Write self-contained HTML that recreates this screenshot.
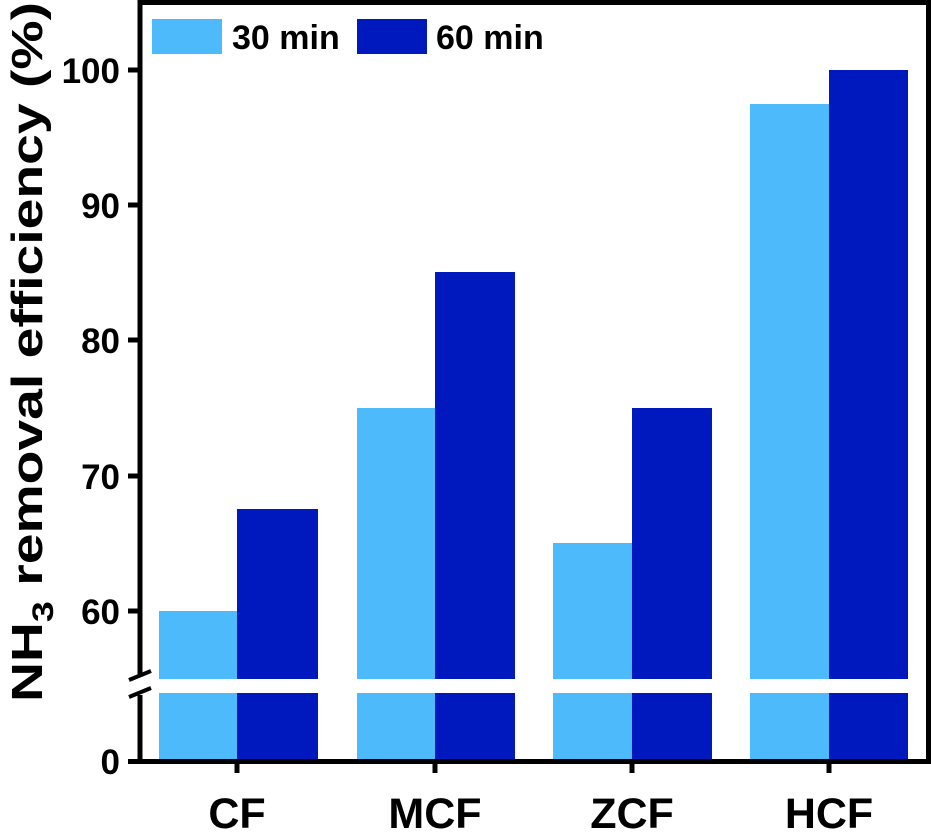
<!DOCTYPE html>
<html><head><style>body{margin:0;background:#fff}svg{display:block}</style></head><body>
<svg width="931" height="834" viewBox="0 0 931 834" xmlns="http://www.w3.org/2000/svg" font-family="Liberation Sans, Arial, sans-serif" font-weight="bold">
<g>
<rect x="159" y="611" width="78" height="68" fill="#4dbbfb"/>
<rect x="237" y="509" width="81" height="170" fill="#0019bf"/>
<rect x="357" y="408" width="78" height="271" fill="#4dbbfb"/>
<rect x="435" y="272" width="80" height="407" fill="#0019bf"/>
<rect x="553" y="543" width="79" height="136" fill="#4dbbfb"/>
<rect x="632" y="408" width="80" height="271" fill="#0019bf"/>
<rect x="750" y="104" width="79" height="575" fill="#4dbbfb"/>
<rect x="829" y="70" width="79" height="609" fill="#0019bf"/>
</g>
<g>
<rect x="159" y="693" width="78" height="68" fill="#4dbbfb"/>
<rect x="237" y="693" width="81" height="68" fill="#0019bf"/>
<rect x="357" y="693" width="78" height="68" fill="#4dbbfb"/>
<rect x="435" y="693" width="80" height="68" fill="#0019bf"/>
<rect x="553" y="693" width="79" height="68" fill="#4dbbfb"/>
<rect x="632" y="693" width="80" height="68" fill="#0019bf"/>
<rect x="750" y="693" width="79" height="68" fill="#4dbbfb"/>
<rect x="829" y="693" width="79" height="68" fill="#0019bf"/>
</g>
<line x1="138" y1="2.5" x2="931" y2="2.5" stroke="#000" stroke-width="5"/>
<line x1="928.5" y1="0" x2="928.5" y2="764" stroke="#000" stroke-width="5"/>
<line x1="140" y1="0" x2="140" y2="676" stroke="#000" stroke-width="5"/>
<line x1="140" y1="695" x2="140" y2="764" stroke="#000" stroke-width="5"/>
<line x1="128" y1="761.5" x2="931" y2="761.5" stroke="#000" stroke-width="5"/>
<line x1="129" y1="680" x2="151" y2="671" stroke="#000" stroke-width="4"/>
<line x1="129" y1="697" x2="151" y2="688" stroke="#000" stroke-width="4"/>
<g stroke="#000" stroke-width="5">
<line x1="128" y1="70" x2="140" y2="70"/>
<line x1="128" y1="205" x2="140" y2="205"/>
<line x1="128" y1="340" x2="140" y2="340"/>
<line x1="128" y1="476" x2="140" y2="476"/>
<line x1="128" y1="611" x2="140" y2="611"/>
<line x1="237" y1="761" x2="237" y2="773"/>
<line x1="435" y1="761" x2="435" y2="773"/>
<line x1="632" y1="761" x2="632" y2="773"/>
<line x1="829" y1="761" x2="829" y2="773"/>
</g>
<g font-size="35" text-anchor="end" fill="#000">
<text x="120" y="83">100</text>
<text x="120" y="218">90</text>
<text x="120" y="353">80</text>
<text x="120" y="489">70</text>
<text x="120" y="624">60</text>
<text x="120" y="774">0</text>
</g>
<g font-size="43" text-anchor="middle" fill="#000">
<text x="237" y="828">CF</text>
<text x="435" y="828">MCF</text>
<text x="632" y="828">ZCF</text>
<text x="829" y="828">HCF</text>
</g>
<text transform="translate(42,352) rotate(-90)" font-size="44" text-anchor="middle" fill="#000" textLength="700" lengthAdjust="spacingAndGlyphs">NH<tspan font-size="30" dy="11">3</tspan><tspan dy="-11"> removal efficiency (%)</tspan></text>
<rect x="152" y="19" width="70" height="35" fill="#4dbbfb"/>
<text x="232" y="49" font-size="34" fill="#000">30 min</text>
<rect x="357" y="19" width="70" height="35" fill="#0019bf"/>
<text x="436" y="49" font-size="34" fill="#000">60 min</text>
</svg>
</body></html>
